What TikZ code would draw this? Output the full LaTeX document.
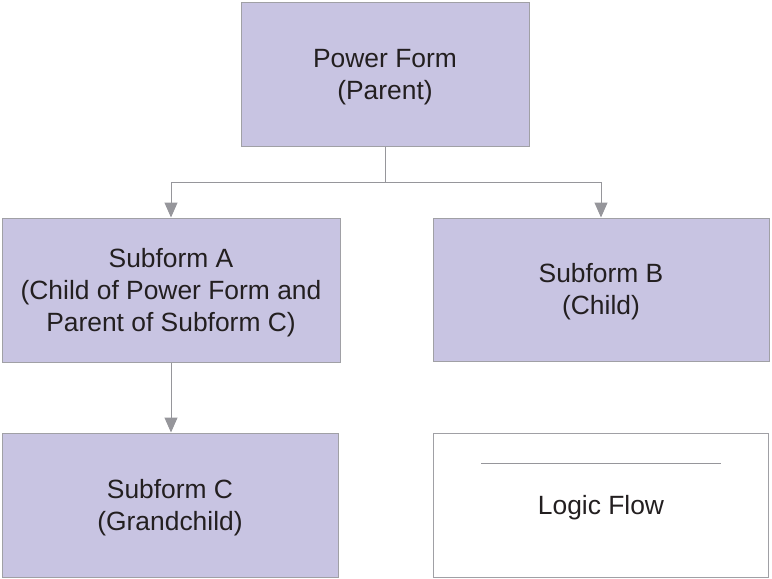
\documentclass[tikz,border=0pt]{standalone}
\usepackage{fontspec}
\setmainfont{Liberation Sans}
\usetikzlibrary{arrows.meta}
\definecolor{boxfill}{RGB}{200,196,226}
\definecolor{boxline}{RGB}{160,160,165}
\definecolor{conn}{RGB}{150,150,155}
\definecolor{txt}{RGB}{35,31,32}
\newcommand{\mytopstrut}{\rule{0pt}{24pt}}
\begin{document}
\begin{tikzpicture}[x=1pt,y=-1pt,
  box/.style={draw=boxline, fill=boxfill, line width=1pt, align=center, text=txt,
    font=\fontsize{26.4}{32}\selectfont, inner sep=0pt},
  legendbox/.style={draw=boxline, fill=white, line width=1pt, inner sep=0pt},
  conline/.style={draw=conn, line width=1pt},
  arr/.style={conline, -{Triangle[width=13pt,length=15pt,fill=conn]}}]
\useasboundingbox (0,0) rectangle (772,579);
\node[box, minimum width=288, minimum height=144] (pf) at (385,74) {\mytopstrut Power Form\\(Parent)};
\node[box, minimum width=338, minimum height=144] (sa) at (171,290) {\mytopstrut Subform A\\(Child of Power Form and\\Parent of Subform C)};
\node[box, minimum width=336, minimum height=143] (sb) at (601,289.5) {\mytopstrut Subform B\\(Child)};
\node[box, minimum width=336, minimum height=144] (sc) at (170,505) {\mytopstrut Subform C\\(Grandchild)};
\node[legendbox, minimum width=335, minimum height=144] (lg) at (601,505) {};
\node[text=txt, font=\fontsize{26.4}{32}\selectfont, inner sep=0pt] (lgt) at (601,507.5) {Logic Flow};
\coordinate (ls) at (481,463);
\coordinate (le) at (721,463);
\draw[conline] (ls) -- (le);
\coordinate (j) at (385,182);
\draw[conline] (pf.south) -- (j);
\draw[arr] (j) -| (sa.north);
\draw[arr] (j) -| (sb.north);
\draw[arr] (sa.south) -- (sa.south |- sc.north);
\end{tikzpicture}
\end{document}
